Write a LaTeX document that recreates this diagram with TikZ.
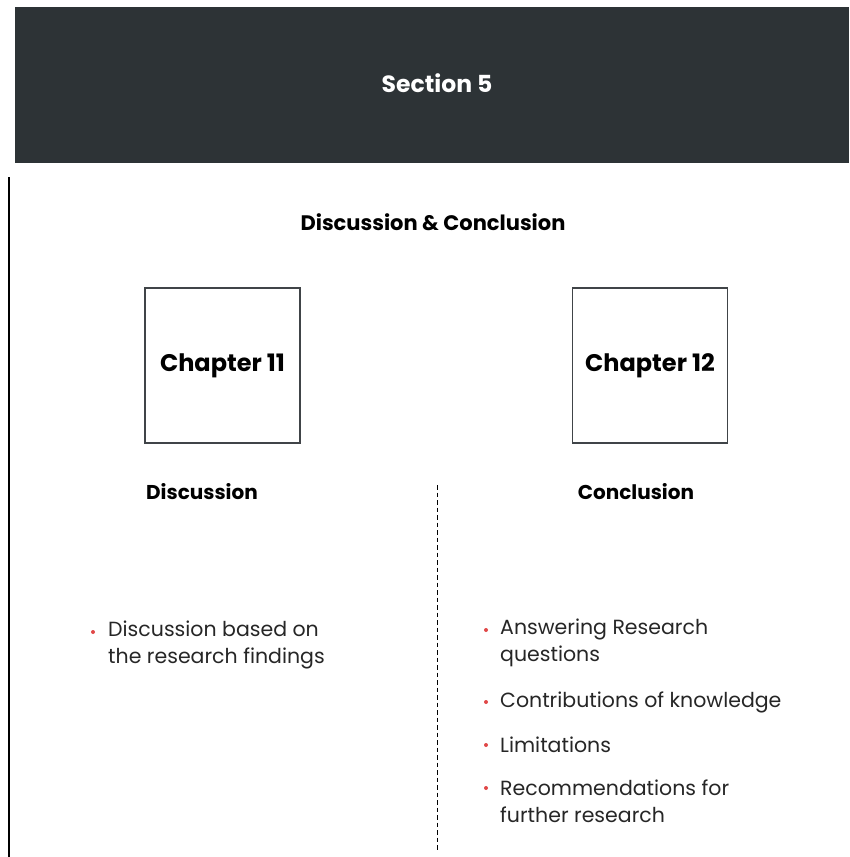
\documentclass[tikz,border=0pt]{standalone}
\usepackage{fontspec}
\setmainfont{Poppins}
\usepackage{xcolor}
\usetikzlibrary{positioning}

\definecolor{headerdark}{HTML}{2D3336}
\definecolor{boxgray}{HTML}{404448}
\definecolor{bulletred}{HTML}{E04848}

\begin{document}
\begin{tikzpicture}[
    x=1pt, y=-1pt,
    chapbox/.style={rectangle, draw=boxgray, line width=1.6pt, minimum width=155pt,
                minimum height=155pt, align=center, font=\fontsize{24}{28}\selectfont\bfseries},
    heading/.style={font=\fontsize{20}{24}\selectfont\bfseries},
    item/.style={anchor=west, align=left, inner sep=0pt,
                font=\fontsize{20.5}{27}\selectfont, text=black!85},
    dot/.style={circle, fill=bulletred, inner sep=0pt, minimum size=4pt},
]
    \useasboundingbox (0,0) rectangle (849,857);

    % header bar
    \fill[headerdark] (15,7) rectangle (849,163);
    \node[text=white, font=\fontsize{23.5}{28}\selectfont\bfseries] (title) at (437,83) {Section 5};

    % left rule
    \coordinate (ruletop) at (9,177);
    \coordinate (rulebot) at (9,857);
    \draw[line width=2pt] (ruletop) -- (rulebot);

    \node[heading, font=\fontsize{21}{24}\selectfont\bfseries] (subtitle) at (433,222) {Discussion \& Conclusion};

    % chapters
    \node[chapbox] (ch11) at (222.5,365.5) {Chapter 11};
    \node[chapbox] (ch12) at (650,365.5) {Chapter 12};

    \node[heading] (disc) at (202,492) {Discussion};
    \node[heading] (conc) at (636,492) {Conclusion};

    % divider
    \coordinate (divtop) at (437,485);
    \coordinate (divbot) at (437,852);
    \draw[line width=1pt, dash pattern=on 4.5pt off 3pt] (divtop) -- (divbot);

    % discussion points
    \node[dot] (d1) at (93,632) {};
    \node[item] (t1) at (108,645) {Discussion based on\\the research findings};

    % conclusion points
    \node[dot] (c1) at (486,630) {};
    \node[item] (u1) at (500,643) {Answering Research\\questions};
    \node[dot] (c2) at (486,702) {};
    \node[item] (u2) at (500,702) {Contributions of knowledge};
    \node[dot] (c3) at (486,745) {};
    \node[item] (u3) at (500,745) {Limitations};
    \node[dot] (c4) at (486,788) {};
    \node[item] (u4) at (500,801) {Recommendations for\\further research};
\end{tikzpicture}
\end{document}
